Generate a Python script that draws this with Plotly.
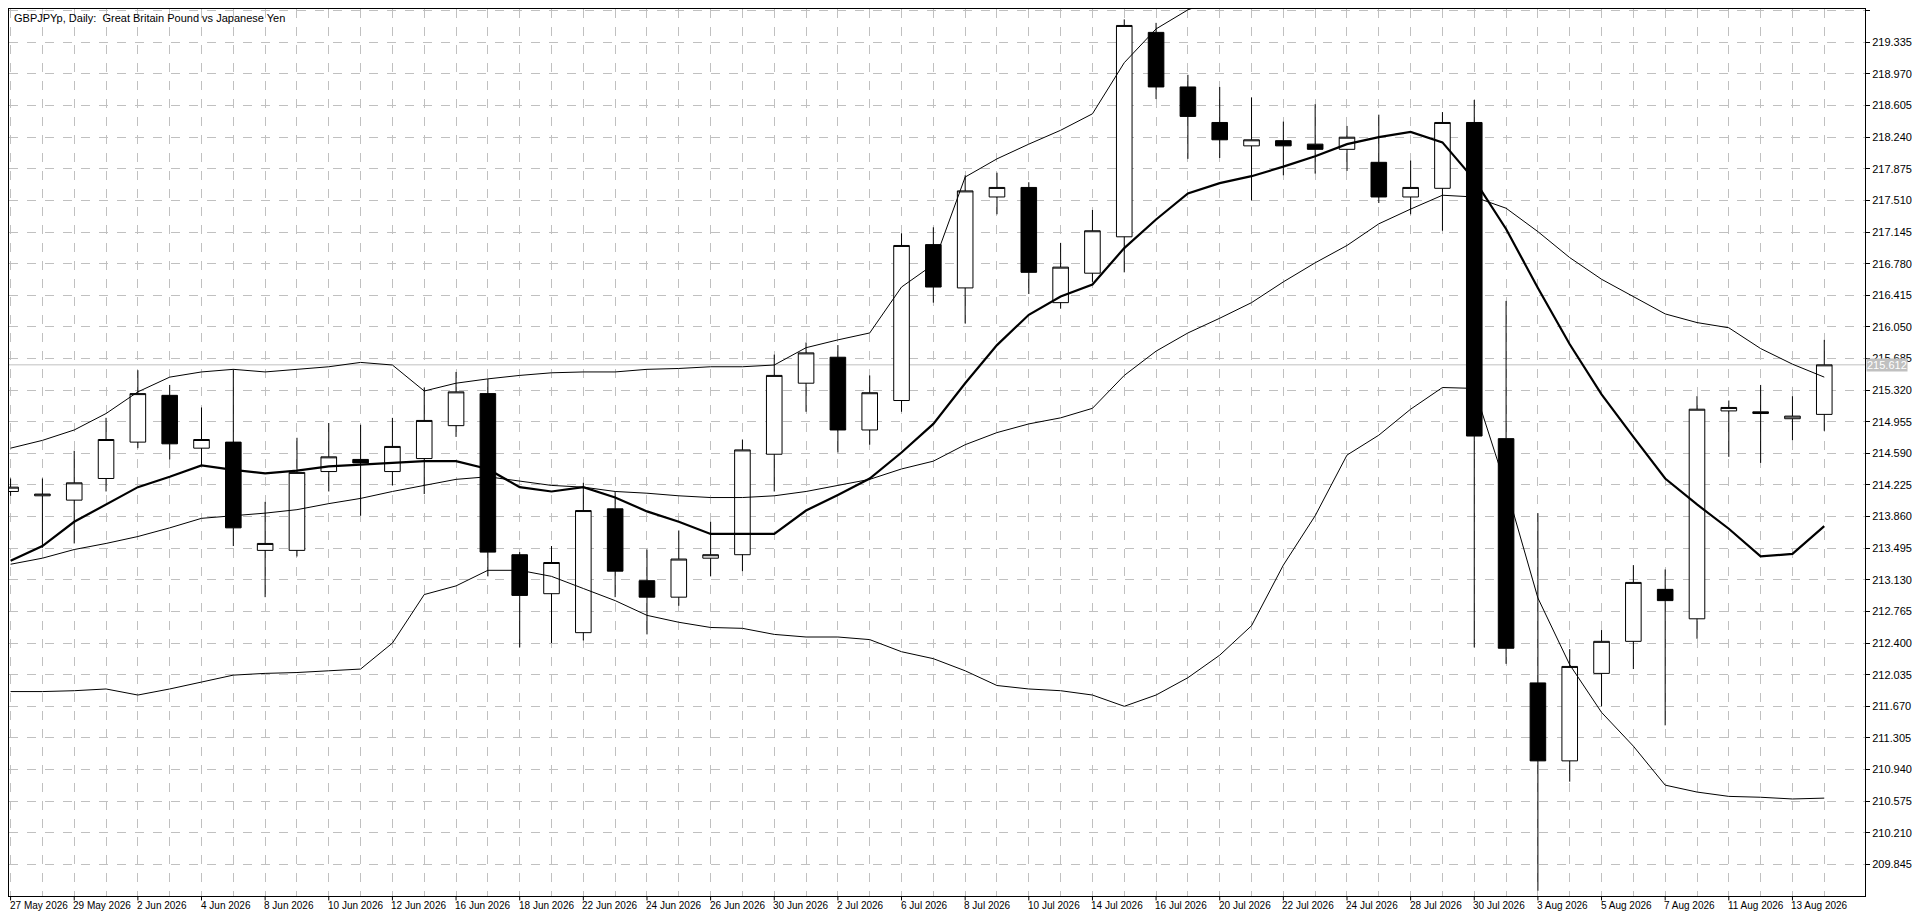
import plotly.graph_objects as go

dates = ["27 May 2026","28 May 2026","29 May 2026","1 Jun 2026","2 Jun 2026","3 Jun 2026","4 Jun 2026","5 Jun 2026",
         "8 Jun 2026","9 Jun 2026","10 Jun 2026","11 Jun 2026","12 Jun 2026","15 Jun 2026","16 Jun 2026","17 Jun 2026",
         "18 Jun 2026","19 Jun 2026","22 Jun 2026","23 Jun 2026","24 Jun 2026","25 Jun 2026","26 Jun 2026","29 Jun 2026",
         "30 Jun 2026","1 Jul 2026","2 Jul 2026","3 Jul 2026","6 Jul 2026","7 Jul 2026","8 Jul 2026","9 Jul 2026",
         "10 Jul 2026","13 Jul 2026","14 Jul 2026","15 Jul 2026","16 Jul 2026","17 Jul 2026","20 Jul 2026","21 Jul 2026",
         "22 Jul 2026","23 Jul 2026","24 Jul 2026","27 Jul 2026","28 Jul 2026","29 Jul 2026","30 Jul 2026","31 Jul 2026",
         "3 Aug 2026","4 Aug 2026","5 Aug 2026","6 Aug 2026","7 Aug 2026","10 Aug 2026","11 Aug 2026","12 Aug 2026",
         "13 Aug 2026","14 Aug 2026"]

opens  = [214.15,214.10,214.05,214.30,214.72,215.26,214.65,214.72,213.47,213.47,214.38,214.52,214.38,214.53,214.91,215.28,
          213.42,212.97,212.52,213.95,213.12,212.93,213.38,213.42,214.58,215.40,215.70,214.86,215.20,217.00,216.50,217.55,
          217.66,216.33,216.67,217.09,219.45,218.82,218.41,218.14,218.20,218.16,218.10,217.95,217.55,217.65,218.41,214.76,
          211.94,211.04,212.05,212.42,213.02,212.68,215.08,215.05,214.99,215.04]
highs  = [214.30,214.30,214.62,215.00,215.55,215.38,215.12,215.56,214.03,214.77,214.94,214.92,215.00,215.35,215.53,215.45,
          213.45,213.52,214.25,214.15,213.48,213.70,213.80,214.75,215.73,215.87,215.84,215.49,217.13,217.20,217.80,217.83,
          217.72,217.02,217.40,219.60,219.56,218.96,218.82,218.70,218.42,218.62,218.37,218.50,217.97,218.53,218.67,216.35,
          213.90,212.33,212.55,213.30,213.25,215.25,215.20,215.38,215.25,215.90]
lows   = [214.10,213.50,213.55,214.15,214.65,214.52,214.45,213.52,212.93,213.40,214.15,213.87,214.22,214.12,214.78,213.17,
          212.35,212.40,212.43,212.93,212.50,212.83,213.17,213.23,214.15,215.07,214.60,214.69,215.07,216.33,216.09,217.35,
          216.43,216.26,216.57,216.68,218.68,217.99,218.00,217.51,217.80,217.82,217.85,217.48,217.35,217.16,212.35,212.16,
          209.54,210.80,211.67,212.10,211.45,212.45,214.55,214.48,214.74,214.85]
closes = [214.20,214.12,214.25,214.75,215.28,214.70,214.75,213.73,213.55,214.37,214.55,214.48,214.67,214.97,215.30,213.45,
          212.95,213.33,213.93,213.23,212.93,213.37,213.42,214.63,215.49,215.75,214.86,215.29,216.99,216.51,217.62,217.66,
          216.68,216.74,217.16,219.53,218.82,218.48,218.21,218.21,218.14,218.10,218.24,217.55,217.66,218.41,214.79,212.34,
          211.04,212.13,212.42,213.10,212.89,215.10,215.12,215.07,215.02,215.612]

ma_fast = [213.35,213.52,213.80,214.00,214.20,214.32,214.45,214.40,214.36,214.39,214.44,214.46,214.48,214.50,214.50,214.41,
           214.20,214.15,214.20,214.08,213.92,213.80,213.66,213.66,213.66,213.93,214.11,214.30,214.60,214.93,215.40,215.84,
           216.19,216.40,216.54,216.96,217.29,217.59,217.71,217.79,217.90,218.02,218.16,218.24,218.30,218.18,217.75,217.18,
           216.50,215.85,215.27,214.78,214.30,214.00,213.72,213.40,213.43,213.75]
bb_mid = [213.31,213.38,213.48,213.55,213.63,213.73,213.84,213.87,213.90,213.94,214.01,214.07,214.15,214.22,214.29,214.32,
          214.27,214.22,214.20,214.15,214.13,214.10,214.08,214.08,214.10,214.15,214.22,214.29,214.41,214.50,214.69,214.83,
          214.93,215.00,215.11,215.49,215.77,215.98,216.15,216.33,216.57,216.79,216.99,217.24,217.41,217.57,217.55,217.42,
          217.15,216.85,216.60,216.40,216.20,216.10,216.04,215.80,215.62,215.47]
bb_up  = [214.65,214.74,214.86,215.05,215.30,215.47,215.53,215.56,215.53,215.56,215.59,215.64,215.61,215.31,215.40,215.45,
          215.49,215.52,215.53,215.53,215.56,215.57,215.59,215.59,215.61,215.81,215.90,215.98,216.51,216.77,217.78,217.99,
          218.16,218.32,218.51,219.10,219.49,219.71,219.85,219.95,220.00,220.00,219.95,219.85,219.75,219.80,220.30,220.90,
          221.20,221.30,221.30,221.20,221.10,221.00,220.90,220.80,220.60,220.40]
bb_low = [211.84,211.84,211.85,211.87,211.80,211.87,211.95,212.03,212.05,212.06,212.08,212.10,212.40,212.96,213.06,213.24,
          213.24,213.17,213.03,212.89,212.72,212.64,212.58,212.57,212.50,212.47,212.47,212.44,212.30,212.22,212.08,211.91,
          211.87,211.85,211.80,211.67,211.80,212.00,212.26,212.60,213.30,213.87,214.57,214.80,215.10,215.35,215.34,214.20,
          212.92,212.15,211.60,211.21,210.76,210.68,210.63,210.62,210.60,210.61]

y_top, y_step, n_levels = 219.700, 0.365, 28
y_ticks = [round(y_top - i * y_step, 3) for i in range(n_levels)]

x = list(range(len(dates)))
FONT = "Liberation Sans"

fig = go.Figure()
fig.add_trace(go.Candlestick(
    x=x, open=opens, high=highs, low=lows, close=closes,
    increasing=dict(line=dict(color="black", width=1), fillcolor="white"),
    decreasing=dict(line=dict(color="black", width=1), fillcolor="black"),
    whiskerwidth=0, showlegend=False, hoverinfo="skip"))
for vals, w in [(bb_up, 1), (bb_mid, 1), (bb_low, 1), (ma_fast, 2.2)]:
    fig.add_trace(go.Scatter(x=x, y=vals, mode="lines", line=dict(color="black", width=w),
                             showlegend=False, hoverinfo="skip"))

last = closes[-1]
fig.add_shape(type="line", xref="paper", x0=0, x1=1, yref="y", y0=last, y1=last,
              line=dict(color="#c0c0c0", width=1), layer="below")
fig.add_annotation(xref="paper", x=1.0, xanchor="left", yref="y", y=last, text=f"{last:.3f}",
                   showarrow=False, bgcolor="#c0c0c0", font=dict(family=FONT, size=11, color="white"),
                   borderpad=0, xshift=1)
fig.add_annotation(xref="paper", x=0, xanchor="left", yref="paper", y=1, yanchor="top",
                   text="GBPJPYp, Daily:  Great Britain Pound vs Japanese Yen", showarrow=False,
                   font=dict(family=FONT, size=11, color="black"), xshift=3, yshift=-1)
for i in range(0, len(dates), 2):
    fig.add_annotation(xref="x", x=i, xanchor="left", yref="paper", y=0, yanchor="top",
                       text=dates[i], showarrow=False, font=dict(family=FONT, size=10, color="black"),
                       yshift=-2, xshift=-3)

fig.update_layout(
    width=1904, height=907, paper_bgcolor="white", plot_bgcolor="white",
    margin=dict(l=0, r=45, t=0, b=19),
    xaxis=dict(range=[-0.05, 58.28], tickmode="array", tickvals=x,
               ticktext=["" for _ in dates],
               showgrid=True, gridcolor="#c0c0c0", griddash="dash", gridwidth=1,
               showline=True, linecolor="black", linewidth=1, mirror=True,
               ticks="", zeroline=False, rangeslider=dict(visible=False), fixedrange=True),
    yaxis=dict(range=[209.48, 219.72], side="right", tickmode="array", tickvals=y_ticks,
               ticktext=[f"{v:.3f}" for v in y_ticks],
               showgrid=True, gridcolor="#c0c0c0", griddash="dash", gridwidth=1,
               showline=True, linecolor="black", linewidth=1, mirror=True,
               ticks="outside", ticklen=4, tickcolor="black",
               tickfont=dict(family=FONT, size=11, color="black"), zeroline=False),
)
for i in range(0, len(dates), 2):
    fig.add_shape(type="line", xref="x", x0=i, x1=i, yref="paper", y0=0, y1=-0.005,
                  line=dict(color="black", width=1))
fig.write_html("out.html")
